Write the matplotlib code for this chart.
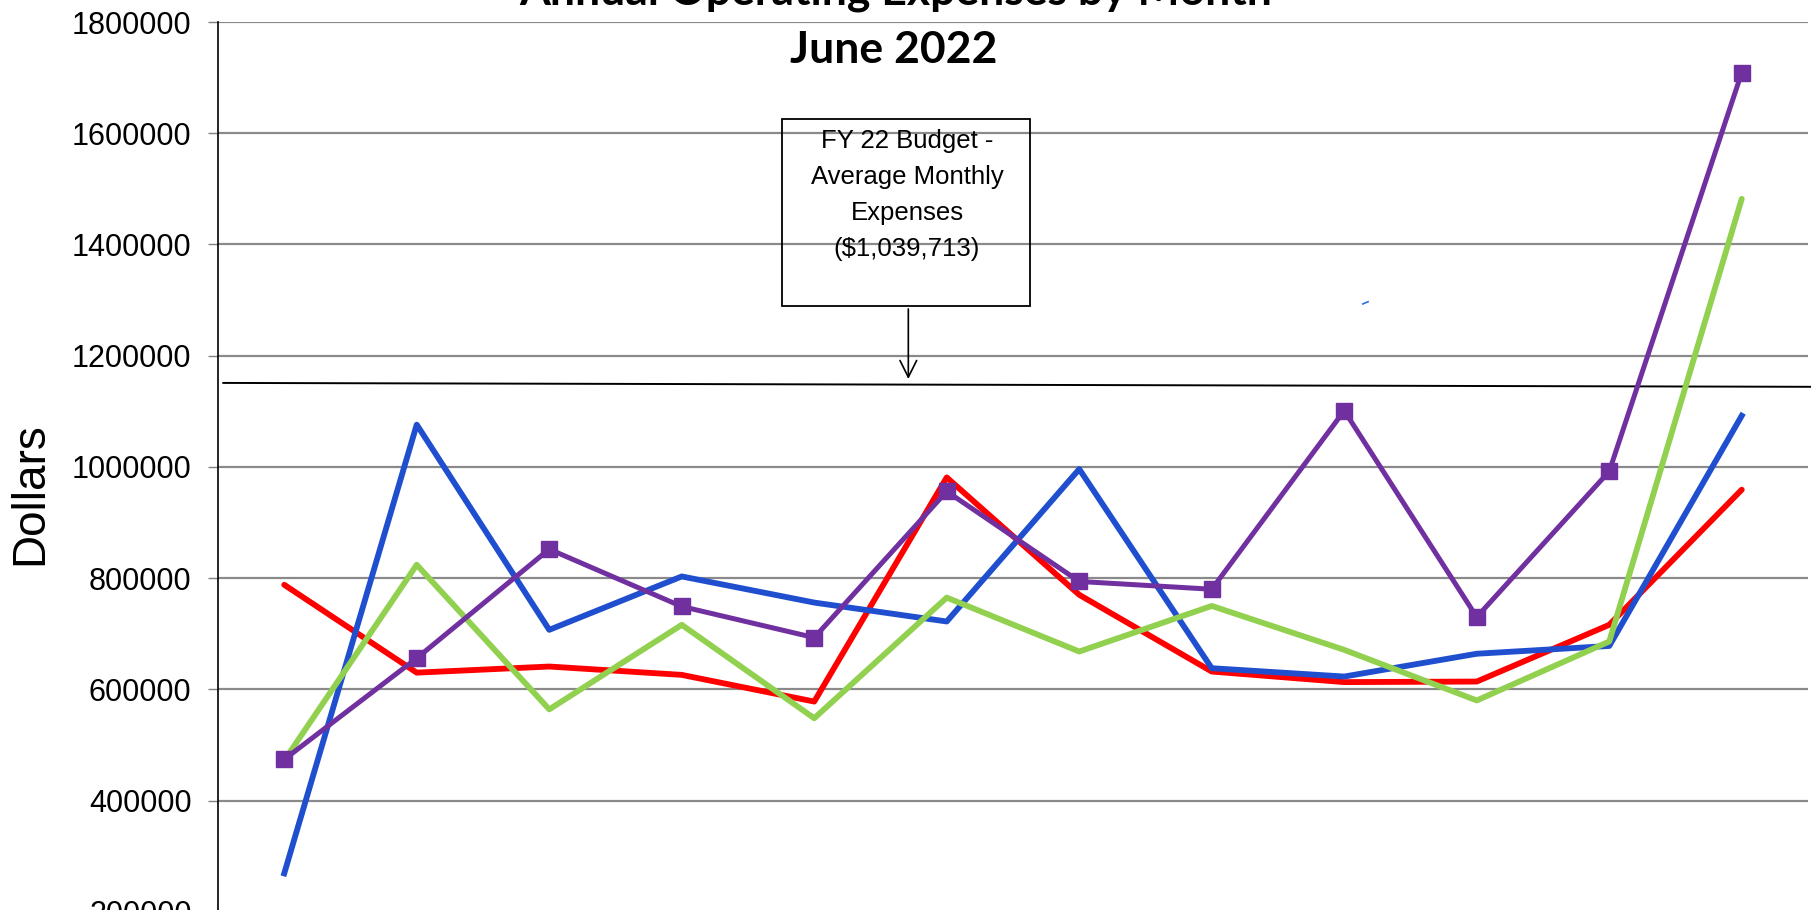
"""Annual operating expenses by month, June 2022 (cropped Excel-style line chart)."""
import matplotlib
matplotlib.use("Agg")
import matplotlib.pyplot as plt
from matplotlib.patches import Rectangle

plt.rcParams["font.family"] = ["Liberation Sans", "DejaVu Sans"]

months = ["Jul", "Aug", "Sep", "Oct", "Nov", "Dec",
          "Jan", "Feb", "Mar", "Apr", "May", "Jun"]

# monthly expenses
fy19 = [788000, 630000, 641000, 626000, 578000, 981000,
        770000, 632000, 613000, 614000, 716000, 959000]
fy20 = [269000, 1076000, 707000, 803000, 756000, 722000,
        996000, 638000, 623000, 664000, 678000, 1092000]
fy21 = [472000, 824000, 564000, 716000, 548000, 765000,
        668000, 750000, 671000, 580000, 686000, 1482000]
fy22 = [474000, 656000, 852000, 749000, 693000, 956000,
        794000, 780000, 1101000, 730000, 992000, 1709000]

# hand-drawn budget marker line (slightly tilted) and its callout
budget_x = [-0.46, 11.52]
budget_y = [1151000, 1144000]
budget_text = "FY 22 Budget -\nAverage Monthly\nExpenses\n($1,039,713)"
stray_x = [8.14, 8.18]
stray_y = [1293000, 1297000]

yticks = list(range(0, 1800001, 200000))

fig = plt.figure(figsize=(18.11, 9.10), dpi=100)
# the original is a crop: the axes run past the bottom edge of the picture
ax = fig.add_axes([0.12037, -0.12418, 0.87797, 1.1])

x = list(range(len(months)))
ax.plot(x, fy19, color="#FF0000", lw=4.2, solid_capstyle="round", zorder=3)
ax.plot(x, fy20, color="#1F4FCF", lw=4.2, zorder=3)
ax.plot(x, fy21, color="#92D050", lw=4.2, solid_capstyle="round", zorder=3)
ax.plot(x, fy22, color="#7030A0", lw=3.6, marker="s", ms=11.5, zorder=4)

ax.plot(budget_x, budget_y, color="black", lw=1.4, clip_on=False, zorder=2)
ax.plot(stray_x, stray_y, color="#2E6FD8", lw=1.2, zorder=2)

# callout box with arrow down to the budget line
ax.add_patch(Rectangle((3.758, 1289700), 1.872, 336400, fill=False,
                       ec="black", lw=1.3, zorder=5))
ax.text(4.70, 1607000, budget_text, ha="center", va="top", fontsize=18.5,
        linespacing=1.62, zorder=6)
ax.annotate("", xy=(4.71, 1158000), xytext=(4.71, 1284000),
            arrowprops=dict(arrowstyle="->", color="black", lw=1.2,
                            mutation_scale=30, shrinkA=0, shrinkB=0))

ax.set_xlim(-0.5, 11.5)
ax.set_ylim(0, 1800000)
ax.set_yticks(yticks)
ax.set_yticklabels([str(v) for v in yticks], fontsize=22)
ax.set_xticks([])
ax.tick_params(axis="y", length=7, width=1, direction="out", pad=12,
               color="#808080")
ax.grid(axis="y", color="#8A8A8A", lw=1.6)
ax.set_axisbelow(True)
for side in ("top", "right", "bottom"):
    ax.spines[side].set_visible(False)
ax.spines["left"].set_linewidth(1.2)

fig.text(0.0166, 0.458, "Dollars", rotation=90, ha="center", va="center",
         fontsize=33)

fig.text(0.4945, 1 - 5 / 910, "Annual Operating Expenses by Month",
         ha="center", va="baseline", fontsize=32, fontweight="bold",
         family=["Lato", "DejaVu Sans"])
fig.text(0.4937, 1 - 63 / 910, "June 2022", ha="center", va="baseline",
         fontsize=32, fontweight="bold", family=["Lato", "DejaVu Sans"])

fig.savefig("out.png", dpi=100)
plt.close(fig)
